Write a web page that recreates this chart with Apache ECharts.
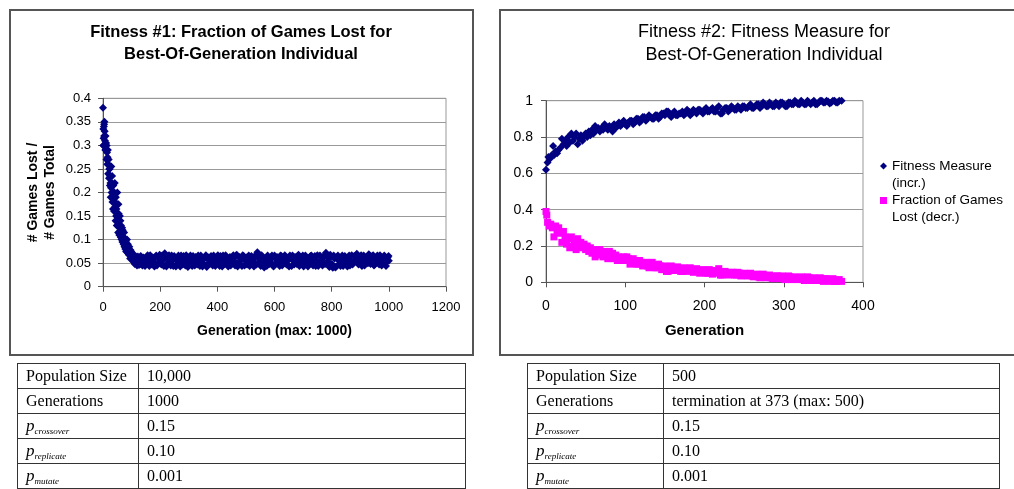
<!DOCTYPE html>
<html>
<head>
<meta charset="utf-8">
<script src="https://cdn.jsdelivr.net/npm/echarts@6/dist/echarts.min.js"></script>
<style>
  html, body { margin: 0; padding: 0; background: #fff; }
  body { width: 1014px; height: 489px; overflow: hidden; position: relative; }
  .frame { position: absolute; border: 2px solid #555; box-sizing: border-box; }
  #chart { position: absolute; left: 0; top: 0; width: 1014px; height: 489px; }
  .params {
    position: absolute; border-collapse: collapse; table-layout: fixed;
    font-family: 'Liberation Serif', 'Times New Roman', serif; font-size: 16px; color: #000;
  }
  .params tr { height: 25px; }
  .params td { border: 1.5px solid #333; padding: 0 8px; white-space: nowrap; }
  .params i { font-size: 17px; }
  .params sub { font-size: 9px; font-style: italic; vertical-align: -3px; }
</style>
</head>
<body>
<div class="frame" style="left:9px;top:9px;width:465px;height:347px"></div>
<div class="frame" style="left:499px;top:9px;width:540px;height:347px"></div>
<div id="chart"></div>

<table class="params" style="left:17px;top:363px;width:449px">
  <colgroup><col style="width:121px"><col></colgroup>
  <tr><td>Population Size</td><td>10,000</td></tr>
  <tr><td>Generations</td><td>1000</td></tr>
  <tr><td><i>p</i><sub>crossover</sub></td><td>0.15</td></tr>
  <tr><td><i>p</i><sub>replicate</sub></td><td>0.10</td></tr>
  <tr><td><i>p</i><sub>mutate</sub></td><td>0.001</td></tr>
</table>

<table class="params" style="left:527px;top:363px;width:473px">
  <colgroup><col style="width:136px"><col></colgroup>
  <tr><td>Population Size</td><td>500</td></tr>
  <tr><td>Generations</td><td>termination at 373 (max: 500)</td></tr>
  <tr><td><i>p</i><sub>crossover</sub></td><td>0.15</td></tr>
  <tr><td><i>p</i><sub>replicate</sub></td><td>0.10</td></tr>
  <tr><td><i>p</i><sub>mutate</sub></td><td>0.001</td></tr>
</table>

<script>
// run 1: fraction of games lost, best-of-generation individual [generation, value]
const lostRun1Early = [
  [0,0.38],[1,0.30],[2,0.315],[3,0.34],[5,0.35],[6,0.33],[8,0.29],[9,0.32],[11,0.305],[12,0.27],
  [14,0.285],[15,0.26],[17,0.29],[18,0.24],[20,0.27],[21,0.23],[23,0.25],[24,0.215],[26,0.22],[27,0.19],
  [29,0.255],[30,0.20],[32,0.235],[33,0.18],[35,0.165],[36,0.215],[38,0.20],[39,0.16],[41,0.22],[42,0.18],
  [44,0.14],[45,0.19],[47,0.165],[48,0.13],[50,0.20],[51,0.15],[53,0.115],[54,0.175],[56,0.14],[57,0.11],
  [59,0.15],[60,0.125],[62,0.105],[63,0.13],[65,0.10],[66,0.12],[68,0.095],[69,0.12],[71,0.105],[72,0.09],
  [74,0.115],[75,0.085],[77,0.10],[78,0.08],[80,0.095],[81,0.075],[83,0.085],[84,0.10],[86,0.072],[87,0.09],
  [89,0.08],[90,0.068],[92,0.085],[93,0.07],[95,0.06],[96,0.078],[98,0.065],[99,0.075],[101,0.058],[102,0.07],
  [104,0.062],[105,0.055],[107,0.068],[108,0.052],[110,0.062],[111,0.048],[113,0.058],[114,0.065],[116,0.05],[117,0.06],
  [119,0.045],[120,0.055],[122,0.064],[123,0.05],[125,0.058],[126,0.046],[128,0.062],[129,0.052],
  [1,0.335],[2,0.30],[4,0.32],[4,0.345],[7,0.31],[10,0.29],[13,0.30],[16,0.275],[19,0.26],[22,0.25],
  [25,0.235],[28,0.21],[31,0.22],[34,0.19],[37,0.185],[40,0.20],[43,0.17],[46,0.15],[49,0.175],[52,0.13],
  [55,0.155],[58,0.125],[61,0.14],[64,0.11],[67,0.125],[70,0.10],[73,0.105],[76,0.095],[79,0.09],[82,0.09],
  [85,0.08],[88,0.078],[91,0.076],[94,0.075],[97,0.068],[100,0.064],[103,0.06],[106,0.063],[109,0.057],[112,0.055],
  [115,0.06],[118,0.052],[121,0.06],[124,0.055],[127,0.058],[130,0.048]
];

const lostRun1Plateau = [
  [132,0.065],[138,0.045],[144,0.060],[150,0.049],[156,0.067],[162,0.044],[168,0.056],[174,0.062],[180,0.043],[186,0.066],
  [192,0.050],[198,0.068],[204,0.047],[210,0.057],[216,0.071],[222,0.043],[228,0.063],[234,0.053],[240,0.066],[246,0.044],
  [252,0.060],[258,0.048],[264,0.066],[270,0.043],[276,0.055],[282,0.065],[288,0.045],[294,0.061],[300,0.050],[306,0.066],
  [312,0.044],[318,0.057],[324,0.063],[330,0.047],[336,0.054],[342,0.066],[348,0.043],[354,0.060],[360,0.067],[366,0.048],
  [372,0.056],[378,0.065],[384,0.045],[390,0.062],[396,0.053],[402,0.067],[408,0.044],[414,0.057],[420,0.066],[426,0.048],
  [432,0.061],[438,0.043],[444,0.063],[450,0.054],[456,0.067],[462,0.045],[468,0.068],[474,0.050],[480,0.060],[486,0.044],
  [492,0.065],[498,0.055],[504,0.047],[510,0.066],[516,0.049],[522,0.060],[528,0.043],[534,0.067],[540,0.073],[546,0.053],
  [552,0.044],[558,0.063],[564,0.041],[570,0.057],[576,0.066],[582,0.048],[588,0.061],[594,0.045],[600,0.066],[606,0.050],
  [612,0.057],[618,0.044],[624,0.065],[630,0.054],[636,0.067],[642,0.047],[648,0.060],[654,0.066],[660,0.044],[666,0.055],
  [672,0.063],[678,0.048],[684,0.068],[690,0.050],[696,0.060],[702,0.043],[708,0.066],[714,0.056],[720,0.047],[726,0.065],
  [732,0.053],[738,0.061],[744,0.044],[750,0.067],[756,0.049],[762,0.057],[768,0.045],[774,0.066],[780,0.072],[786,0.054],
  [792,0.042],[798,0.063],[804,0.040],[810,0.060],[816,0.043],[822,0.066],[828,0.048],[834,0.056],[840,0.044],[846,0.065],
  [852,0.050],[858,0.061],[864,0.045],[870,0.067],[876,0.053],[882,0.057],[888,0.070],[894,0.047],[900,0.063],[906,0.044],
  [912,0.066],[918,0.054],[924,0.060],[930,0.069],[936,0.048],[942,0.065],[948,0.045],[954,0.056],[960,0.066],[966,0.047],
  [972,0.061],[978,0.050],[984,0.066],[990,0.044],[996,0.062],[1000,0.055],
  [135,0.055],[141,0.062],[147,0.044],[153,0.057],[159,0.050],[165,0.067],[171,0.047],[177,0.054],[183,0.063],[189,0.045],
  [195,0.060],[201,0.054],[207,0.066],[213,0.044],[219,0.062],[225,0.050],[231,0.067],[237,0.045],[243,0.056],[249,0.065],
  [255,0.043],[261,0.057],[267,0.053],[273,0.066],[279,0.047],[285,0.056],[291,0.067],[297,0.042],[303,0.060],[309,0.054],
  [315,0.065],[321,0.045],[327,0.056],[333,0.066],[339,0.044],[345,0.061],[351,0.050],[357,0.063],[363,0.042],[369,0.062],
  [375,0.049],[381,0.057],[387,0.066],[393,0.044],[399,0.060],[405,0.054],[411,0.065],[417,0.043],[423,0.056],[429,0.067],
  [435,0.050],[441,0.060],[447,0.045],[453,0.062],[459,0.055],[465,0.066],[471,0.043],[477,0.063],[483,0.056],[489,0.067],
  [495,0.045],[501,0.062],[507,0.055],[513,0.044],[519,0.065],[525,0.054],[531,0.061],[537,0.047],[543,0.066],[549,0.060],
  [555,0.067],[561,0.048],[567,0.055],[573,0.044],[579,0.062],[585,0.054],[591,0.066],[597,0.043],[603,0.060],[609,0.063],
  [615,0.053],[621,0.066],[627,0.045],[633,0.057],[639,0.063],[645,0.054],[651,0.043],[657,0.061],[663,0.066],[669,0.047],
  [675,0.057],[681,0.065],[687,0.044],[693,0.055],[699,0.066],[705,0.050],[711,0.061],[717,0.043],[723,0.057],[729,0.066],
  [735,0.045],[741,0.065],[747,0.055],[753,0.044],[759,0.066],[765,0.054],[771,0.062],[777,0.048],[783,0.067],[789,0.060],
  [795,0.068],[801,0.048],[807,0.066],[813,0.041],[819,0.063],[825,0.055],[831,0.044],[837,0.066],[843,0.053],[849,0.060],
  [855,0.043],[861,0.066],[867,0.055],[873,0.047],[879,0.065],[885,0.057],[891,0.066],[897,0.053],[903,0.067],[909,0.055],
  [915,0.045],[921,0.062],[927,0.050],[933,0.066],[939,0.057],[945,0.067],[951,0.047],[957,0.063],[963,0.054],[969,0.067],
  [975,0.045],[981,0.057],[987,0.063],[993,0.054],[999,0.065]
];

// run 2: fitness measure (increasing) [generation, value]
const fitnessRun2 = [
  [0,0.62],[2,0.66],[3,0.69],[5,0.68],[7,0.70],[9,0.75],[10,0.70],[12,0.72],[14,0.71],[16,0.73],
  [18,0.74],[20,0.79],[22,0.76],[24,0.78],[26,0.75],[28,0.80],[30,0.77],[32,0.82],[34,0.78],[36,0.80],
  [38,0.82],[40,0.76],[42,0.79],[44,0.81],[46,0.78],[48,0.80],[50,0.82],[52,0.80],[54,0.83],[56,0.81],
  [58,0.84],[60,0.82],[62,0.86],[64,0.84],[66,0.85],[68,0.83],[70,0.85],[72,0.84],[74,0.87],[76,0.85],
  [78,0.84],[80,0.86],[82,0.85],[84,0.83],[86,0.87],[88,0.85],[90,0.86],[92,0.88],[94,0.86],[96,0.87],
  [98,0.89],[100,0.87],[104,0.88],[108,0.89],[112,0.88],[116,0.90],[120,0.89],[124,0.91],[128,0.90],[132,0.91],
  [136,0.90],[140,0.92],[144,0.91],[148,0.93],[152,0.94],[156,0.92],[160,0.93],[164,0.92],[168,0.93],[172,0.94],
  [176,0.93],[180,0.94],[184,0.93],[188,0.94],[192,0.95],[196,0.94],[200,0.95],[204,0.94],[208,0.95],[212,0.94],
  [216,0.96],[220,0.93],[224,0.95],[228,0.96],[232,0.95],[236,0.96],[240,0.95],[244,0.96],[248,0.97],[252,0.96],
  [256,0.97],[260,0.96],[264,0.97],[268,0.98],[272,0.97],[276,0.98],[280,0.97],[284,0.98],[288,0.97],[292,0.98],
  [296,0.99],[300,0.98],[304,0.97],[308,0.99],[312,0.98],[316,0.99],[320,0.98],[324,0.99],[328,0.98],[332,0.99],
  [336,0.99],[340,0.98],[344,0.99],[348,1.0],[352,0.99],[356,0.995],[360,0.99],[364,1.0],[368,0.99],[373,1.0],
  [102,0.86],[106,0.89],[110,0.87],[114,0.90],[118,0.88],[122,0.91],[126,0.89],[130,0.92],[134,0.90],[138,0.92],
  [142,0.90],[146,0.93],[150,0.92],[154,0.94],[158,0.91],[162,0.94],[166,0.92],[170,0.93],[174,0.92],[178,0.95],
  [182,0.92],[186,0.95],[190,0.93],[194,0.95],[198,0.93],[202,0.96],[206,0.94],[210,0.96],[214,0.94],[218,0.97],
  [222,0.93],[226,0.96],[230,0.94],[234,0.97],[238,0.95],[242,0.97],[246,0.95],[250,0.97],[254,0.96],[258,0.98],
  [262,0.96],[266,0.98],[270,0.96],[274,0.99],[278,0.97],[282,0.99],[286,0.97],[290,0.99],[294,0.97],[298,0.99],
  [302,0.97],[306,0.99],[310,0.98],[314,1.0],[318,0.98],[322,1.0],[326,0.98],[330,1.0],[334,0.98],[338,1.0],
  [342,0.98],[346,1.0],[350,0.99],[354,1.0],[358,0.985],[362,1.0],[366,0.99],[370,1.0]
];

// run 2: fraction of games lost (decreasing) [generation, value]
const lostRun2 = [
  [0,0.39],[1,0.37],[2,0.33],[4,0.31],[6,0.32],[8,0.30],[10,0.25],[12,0.31],[14,0.28],[16,0.30],
  [18,0.27],[20,0.22],[22,0.28],[24,0.25],[26,0.21],[28,0.24],[30,0.19],[32,0.25],[34,0.20],[36,0.22],
  [38,0.18],[40,0.24],[42,0.20],[44,0.22],[46,0.19],[48,0.21],[50,0.18],[52,0.20],[54,0.17],[56,0.19],
  [58,0.16],[60,0.18],[62,0.14],[64,0.17],[66,0.15],[68,0.18],[70,0.16],[72,0.14],[74,0.17],[76,0.15],
  [78,0.13],[80,0.17],[82,0.14],[84,0.16],[86,0.13],[88,0.15],[90,0.12],[92,0.14],[94,0.13],[96,0.12],
  [98,0.14],[100,0.12],[104,0.13],[108,0.11],[112,0.12],[116,0.10],[120,0.11],[124,0.10],[128,0.09],[132,0.10],
  [136,0.09],[140,0.08],[144,0.09],[148,0.07],[152,0.06],[156,0.08],[160,0.07],[164,0.08],[168,0.07],[172,0.06],
  [176,0.075],[180,0.065],[184,0.07],[188,0.06],[192,0.065],[196,0.055],[200,0.06],[204,0.05],[208,0.06],[212,0.05],
  [216,0.065],[220,0.04],[224,0.055],[228,0.05],[232,0.045],[236,0.055],[240,0.04],[244,0.05],[248,0.045],[252,0.04],
  [256,0.045],[260,0.035],[264,0.04],[268,0.03],[272,0.04],[276,0.03],[280,0.035],[284,0.025],[288,0.03],[292,0.035],
  [296,0.025],[300,0.03],[304,0.02],[308,0.03],[312,0.025],[316,0.02],[320,0.025],[324,0.015],[328,0.02],[332,0.025],
  [336,0.015],[340,0.02],[344,0.015],[348,0.01],[352,0.02],[356,0.01],[360,0.015],[364,0.005],[368,0.01],[373,0.005],
  [102,0.14],[106,0.10],[110,0.13],[114,0.10],[118,0.12],[122,0.09],[126,0.11],[130,0.08],[134,0.11],[138,0.08],
  [142,0.10],[146,0.07],[150,0.09],[154,0.06],[158,0.09],[162,0.065],[166,0.085],[170,0.06],[174,0.08],[178,0.06],
  [182,0.08],[186,0.055],[190,0.075],[194,0.05],[198,0.07],[202,0.05],[206,0.07],[210,0.045],[214,0.065],[218,0.075],
  [222,0.04],[226,0.06],[230,0.04],[234,0.055],[238,0.04],[242,0.055],[246,0.035],[250,0.05],[254,0.035],[258,0.05],
  [262,0.03],[266,0.045],[270,0.025],[274,0.045],[278,0.025],[282,0.04],[286,0.02],[290,0.035],[294,0.02],[298,0.035],
  [302,0.015],[306,0.035],[310,0.015],[314,0.03],[318,0.015],[322,0.03],[326,0.01],[330,0.03],[334,0.01],[338,0.025],
  [342,0.01],[346,0.025],[350,0.005],[354,0.02],[358,0.005],[362,0.02],[366,0.005],[370,0.015]
];

const fitnessName = 'Fitness Measure\n(incr.)';
const lostName = 'Fraction of Games\nLost (decr.)';

const FONT = "'Liberation Sans', Arial, sans-serif";
const NAVY = '#000080';
const MAGENTA = '#ff00ff';

const axisLine = { show: true, onZero: false, lineStyle: { color: '#555', width: 1 } };
const axisTick = { show: true, length: 5, lineStyle: { color: '#555', width: 1 } };
const splitLine = { show: true, lineStyle: { color: '#999', width: 1 } };
const plainNumber = v => String(v);

// legend icon sits beside the first line of a two-line label: a blank line above keeps it centred there
const legendText = name => '\n' + name;

const chart = echarts.init(document.getElementById('chart'));

chart.setOption({
  animation: false,
  backgroundColor: 'transparent',
  textStyle: { fontFamily: FONT, color: '#000' },
  title: [
    {
      text: 'Fitness #1: Fraction of Games Lost for\nBest-Of-Generation Individual',
      left: 241, top: 21, padding: 0, textAlign: 'center',
      textStyle: { fontFamily: FONT, fontSize: 16.5, fontWeight: 'bold', lineHeight: 22, color: '#000' }
    },
    {
      text: 'Fitness #2: Fitness Measure for\nBest-Of-Generation Individual',
      left: 764, top: 20.5, padding: 0, textAlign: 'center',
      textStyle: { fontFamily: FONT, fontSize: 18, fontWeight: 'normal', lineHeight: 23, color: '#000' }
    }
  ],
  legend: [
    {
      data: [fitnessName], left: 880, top: 140.5, padding: 0, selectedMode: false,
      icon: 'diamond', itemWidth: 7, itemHeight: 7, formatter: legendText,
      textStyle: { fontFamily: FONT, fontSize: 13.5, lineHeight: 17, color: '#000' }
    },
    {
      data: [lostName], left: 880, top: 175, padding: 0, selectedMode: false,
      icon: 'rect', itemWidth: 7, itemHeight: 7, formatter: legendText,
      textStyle: { fontFamily: FONT, fontSize: 13.5, lineHeight: 17, color: '#000' }
    }
  ],
  grid: [
    { left: 103, top: 98.3, width: 343, height: 188.4, show: true, borderColor: '#999', borderWidth: 1 },
    { left: 546, top: 100.7, width: 317, height: 181.6, show: true, borderColor: '#999', borderWidth: 1 }
  ],
  xAxis: [
    {
      gridIndex: 0, type: 'value', min: 0, max: 1200, interval: 200,
      name: 'Generation (max: 1000)', nameLocation: 'middle', nameGap: 37,
      nameTextStyle: { fontFamily: FONT, fontSize: 14, fontWeight: 'bold', color: '#000' },
      axisLine, axisTick, splitLine: { show: false },
      axisLabel: { fontFamily: FONT, fontSize: 13, color: '#000', margin: 14, formatter: plainNumber }
    },
    {
      gridIndex: 1, type: 'value', min: 0, max: 400, interval: 100,
      name: 'Generation', nameLocation: 'middle', nameGap: 41,
      nameTextStyle: { fontFamily: FONT, fontSize: 15, fontWeight: 'bold', color: '#000' },
      axisLine, axisTick, splitLine: { show: false },
      axisLabel: { fontFamily: FONT, fontSize: 14, color: '#000', margin: 17, formatter: plainNumber }
    }
  ],
  yAxis: [
    {
      gridIndex: 0, type: 'value', min: 0, max: 0.4, interval: 0.05,
      name: '# Games Lost /\n# Games Total', nameLocation: 'middle', nameRotate: 90, nameGap: 44,
      nameTextStyle: { fontFamily: FONT, fontSize: 14, fontWeight: 'bold', lineHeight: 17, color: '#000' },
      axisLine, axisTick, splitLine,
      axisLabel: { fontFamily: FONT, fontSize: 13, color: '#000', margin: 12 }
    },
    {
      gridIndex: 1, type: 'value', min: 0, max: 1, interval: 0.2,
      axisLine, axisTick, splitLine,
      axisLabel: { fontFamily: FONT, fontSize: 14, color: '#000', margin: 13 }
    }
  ],
  series: [
    {
      name: 'Fraction of Games Lost', type: 'scatter', xAxisIndex: 0, yAxisIndex: 0,
      data: lostRun1Early.concat(lostRun1Plateau), symbol: 'diamond', symbolSize: 8,
      itemStyle: { color: NAVY, opacity: 1 }
    },
    {
      name: fitnessName, type: 'scatter', xAxisIndex: 1, yAxisIndex: 1,
      data: fitnessRun2, symbol: 'diamond', symbolSize: 8,
      itemStyle: { color: NAVY, opacity: 1 }
    },
    {
      name: lostName, type: 'scatter', xAxisIndex: 1, yAxisIndex: 1,
      data: lostRun2, symbol: 'rect', symbolSize: 7,
      itemStyle: { color: MAGENTA, opacity: 1 }
    }
  ]
});

window.addEventListener('resize', () => chart.resize());
</script>
</body>
</html>
